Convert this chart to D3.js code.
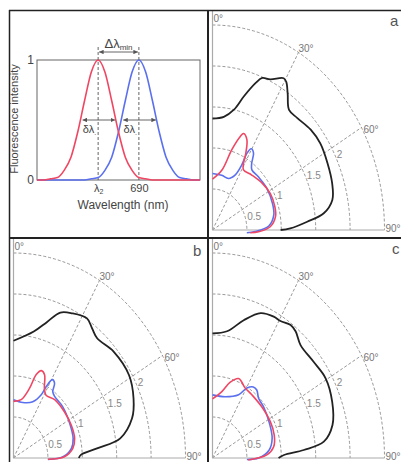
<!DOCTYPE html>
<html>
<head>
<meta charset="utf-8">
<script src="https://cdn.jsdelivr.net/npm/d3@7"></script>
<style>
body { margin: 0; background: #fff; }
svg { display: block; font-family: "Liberation Sans", Arial, sans-serif; }
</style>
</head>
<body>
<div id="chart"></div>
<script>
// spectra (top left)
const wavelengths = [615,620,625,630,635,640,645,650,655,660,665,670,675,680,685,690,695,700,705,710,715,720,725,730,735];
const redIntensity = [0,0,0.01,0.02,0.08,0.19,0.40,0.66,0.90,1,0.90,0.66,0.40,0.19,0.08,0.02,0.01,0,0,0,0,0,0,0,0];
const blueIntensity = [0,0,0,0,0,0,0,0,0.01,0.02,0.08,0.19,0.40,0.66,0.90,1,0.90,0.66,0.40,0.19,0.08,0.02,0.01,0,0];
const peakTicks = [660, 690];
const peakLabels = ["λ", "690"];

// polar panels: [angle deg from 0°, radius]
const radialTicks = [0.5, 1, 1.5, 2, 2.5];
const radialLabels = ["0.5", "1", "1.5", "2"];
const angleTicks = [0, 30, 60, 90];

const aBlack = [[0,1.36],[6.8,1.39],[12,1.50],[15.6,1.69],[19.3,1.90],[21.3,1.99],[24.6,2.02],[29.2,2.12],[30.7,2.10],[33.3,1.99],[37.2,1.84],[42.1,1.84],[49.4,1.88],[56,1.89],[64,1.86],[71.9,1.83],[78.1,1.78],[82.8,1.63],[85.8,1.38],[89,1.13],[90,0.99]];
const aRed = [[0,0.62],[10.5,0.74],[16,1.02],[19.5,1.21],[21,1.26],[24.4,1.21],[27.4,1.05],[29,0.93],[31.6,0.86],[40.4,0.88],[51.6,0.92],[62,0.95],[72.7,0.95],[79.9,0.93],[87.3,0.84],[91.8,0.67],[93.4,0.55]];
const aBlue = [[0,0.69],[11.4,0.68],[20.3,0.67],[26.2,0.75],[28.2,0.90],[28.1,1.06],[29.6,1.14],[32.5,1.11],[35.1,0.99],[38,0.93],[45.8,0.93],[57,0.94],[69.5,0.93],[78.3,0.91],[86.6,0.82],[91.8,0.62],[93.8,0.50]];

const bBlack = [[0,1.43],[10.8,1.57],[16.4,1.73],[21,1.90],[25.8,1.96],[32.1,2.01],[35.9,1.95],[39.8,1.90],[48.4,1.95],[58.9,1.96],[67.4,1.89],[74.3,1.79],[81.2,1.57],[84.5,1.22],[87.8,0.98],[90,0.95]];
const bRed = [[0,0.69],[8.9,0.72],[15.3,0.88],[18,1.07],[20.8,1.14],[24,1.11],[27.9,0.96],[31.7,0.90],[40.1,0.93],[52.7,0.93],[64.4,0.93],[74.9,0.92],[82.2,0.87],[88.8,0.74],[91.8,0.50]];
const bBlue = [[0,0.71],[11.3,0.69],[22.2,0.74],[27.6,0.87],[28.6,0.99],[30.6,1.11],[33.2,1.09],[35.2,0.99],[38.5,0.96],[48.9,0.95],[62.5,0.92],[74.4,0.90],[82,0.85],[88.8,0.72],[92,0.50]];

const cBlack = [[0,1.52],[7.8,1.56],[15.1,1.74],[21.6,1.90],[27.3,1.94],[30.6,1.94],[35,1.98],[38.1,1.96],[42.9,1.88],[51.4,1.88],[59.4,1.91],[68.5,1.87],[77,1.79],[83,1.63],[85.8,1.33],[88,1.04],[90,0.96]];
const cRed = [[0,0.72],[9.5,0.82],[15.6,0.96],[21.3,1.04],[24.6,1.02],[28.5,0.98],[36.6,0.96],[48.9,0.95],[62.2,0.95],[72.7,0.94],[81.2,0.90],[87.3,0.79],[92.7,0.52]];
const cBlue = [[0,0.77],[13.8,0.77],[26.2,0.86],[30.4,0.99],[34.4,1.05],[37.8,1.05],[42.6,0.99],[49.8,0.97],[62.8,0.93],[74.4,0.90],[83.2,0.83],[90,0.67],[92,0.50]];

const RED = "#ef4763", BLUE = "#5b70ee", GRID = "#8c8c8c";

const svg = d3.select("#chart").append("svg")
  .attr("width", 401)
  .attr("height", 462);

const defs = svg.append("defs");
defs.append("marker")
  .attr("id", "arr")
  .attr("viewBox", "0 0 6 6")
  .attr("refX", 6).attr("refY", 3)
  .attr("markerWidth", 5).attr("markerHeight", 5)
  .attr("orient", "auto-start-reverse")
  .append("path").attr("d", "M0,0L6,3L0,6Z").attr("fill", "#555");

// ---------- spectra panel ----------
const x = d3.scaleLinear().domain([615, 735]).range([37, 200]);
const y = d3.scaleLinear().domain([0, 1]).range([180, 60]);

const sp = svg.append("g");
sp.append("rect")
  .attr("x", 37).attr("y", 60).attr("width", 163).attr("height", 120)
  .attr("fill", "none").attr("stroke", "#666").attr("stroke-width", 1);

const spec = d3.line()
  .x((d, i) => x(wavelengths[i]))
  .y(d => y(d))
  .curve(d3.curveMonotoneX);

// dashed guide lines at the peaks
sp.selectAll(".guide").data(peakTicks).enter().append("line")
  .attr("x1", d => x(d)).attr("x2", d => x(d))
  .attr("y1", y(0)).attr("y2", 45)
  .attr("stroke", "#555").attr("stroke-width", 0.9)
  .attr("stroke-dasharray", "3,2");

sp.append("path").attr("d", spec(blueIntensity))
  .attr("fill", "none").attr("stroke", BLUE).attr("stroke-width", 1.6);
sp.append("path").attr("d", spec(redIntensity))
  .attr("fill", "none").attr("stroke", RED).attr("stroke-width", 1.6);

// Δλmin arrow
sp.append("line")
  .attr("x1", x(660) + 1).attr("x2", x(690) - 1)
  .attr("y1", 52).attr("y2", 52)
  .attr("stroke", "#555").attr("stroke-width", 0.9)
  .attr("marker-start", "url(#arr)").attr("marker-end", "url(#arr)");
const dl = sp.append("text")
  .attr("x", x(675)).attr("y", 48)
  .attr("text-anchor", "middle")
  .attr("fill", "#444").attr("font-size", 13);
dl.append("tspan").text("Δλ");
dl.append("tspan").attr("font-size", 8).attr("dy", 2).text("min");

// half width arrows
[[648.5, 672.5], [678.5, 702.5]].forEach(w => {
  sp.append("line")
    .attr("x1", x(w[0])).attr("x2", x(w[1]))
    .attr("y1", y(0.5)).attr("y2", y(0.5))
    .attr("stroke", "#555").attr("stroke-width", 0.9)
    .attr("marker-start", "url(#arr)").attr("marker-end", "url(#arr)");
});
peakTicks.forEach(p => {
  const t = sp.append("text")
    .attr("x", x(p) - 2).attr("y", 133)
    .attr("text-anchor", "end")
    .attr("fill", "#444").attr("font-size", 11);
  t.append("tspan").text("δλ");
  t.append("tspan").attr("font-size", 7).attr("dy", 2).text(".");
});

// axes
const yAxis = d3.axisLeft(y).tickValues([0, 1]).tickFormat(d3.format("d")).tickSize(0).tickPadding(3);
const ya = sp.append("g").attr("transform", "translate(37,0)").call(yAxis);
ya.select(".domain").remove();
ya.selectAll("text").attr("font-size", 12).attr("fill", "#444").attr("font-family", "Liberation Sans, Arial");

const xAxis = d3.axisBottom(x).tickValues(peakTicks).tickFormat((d, i) => peakLabels[i]).tickSize(0).tickPadding(4);
const xa = sp.append("g").attr("transform", "translate(0,180)").call(xAxis);
xa.select(".domain").remove();
xa.selectAll("text").attr("font-size", 11).attr("fill", "#444").attr("font-family", "Liberation Sans, Arial")
  .filter(d => d === 660)
  .append("tspan").attr("font-size", 7).attr("dy", 2).text("2");

sp.append("text")
  .attr("x", 123).attr("y", 209)
  .attr("text-anchor", "middle")
  .attr("fill", "#444").attr("font-size", 12)
  .text("Wavelength (nm)");

sp.append("text")
  .attr("transform", "translate(18,119) rotate(-90)")
  .attr("text-anchor", "middle")
  .attr("fill", "#444").attr("font-size", 11)
  .text("Fluorescence intensity");

// ---------- polar panels ----------
const rx = d3.scaleLinear().domain([0, 2.5]).range([0, 172]);
const ry = d3.scaleLinear().domain([0, 2.5]).range([0, 205]);
const rad = a => a * Math.PI / 180;

const panels = [
  { letter: "a", ox: 212.5, oy: 230, clip: [209, 11, 192, 226], black: aBlack, red: aRed, blue: aBlue, lx: 390, ly: 26 },
  { letter: "b", ox: 13.5, oy: 458, clip: [10, 239, 197, 223], black: bBlack, red: bRed, blue: bBlue, lx: 193, ly: 256 },
  { letter: "c", ox: 212.5, oy: 458, clip: [209, 239, 192, 223], black: cBlack, red: cRed, blue: cBlue, lx: 392, ly: 254 }
];

panels.forEach((p, k) => {
  defs.append("clipPath").attr("id", "clip" + k)
    .append("rect")
    .attr("x", p.clip[0]).attr("y", p.clip[1])
    .attr("width", p.clip[2]).attr("height", p.clip[3]);

  const g = svg.append("g").attr("clip-path", `url(#clip${k})`);
  const px = (a, r) => p.ox + rx(r) * Math.sin(rad(a));
  const py = (a, r) => p.oy - ry(r) * Math.cos(rad(a));

  // rings
  g.selectAll(".ring").data(radialTicks).enter().append("path")
    .attr("d", r => `M${p.ox},${p.oy - ry(r)} A${rx(r)},${ry(r)} 0 0 1 ${p.ox + rx(r)},${p.oy}`)
    .attr("fill", "none").attr("stroke", GRID).attr("stroke-width", 0.9)
    .attr("stroke-dasharray", "3,2");

  // spokes
  g.selectAll(".spoke").data([30, 60]).enter().append("line")
    .attr("x1", p.ox).attr("y1", p.oy)
    .attr("x2", a => px(a, 2.5)).attr("y2", a => py(a, 2.5))
    .attr("stroke", GRID).attr("stroke-width", 0.9)
    .attr("stroke-dasharray", "3,2");

  // axes at 0° and 90°
  g.append("line")
    .attr("x1", p.ox).attr("y1", p.oy).attr("x2", p.ox).attr("y2", p.clip[1])
    .attr("stroke", "#aaa").attr("stroke-width", 1.2);
  g.append("line")
    .attr("x1", p.ox).attr("y1", p.oy).attr("x2", px(90, 2.5)).attr("y2", p.oy)
    .attr("stroke", "#aaa").attr("stroke-width", 1);

  // angle labels
  const angOff = { 0: [1, -3], 30: [0, 0], 60: [2, 5], 90: [1, 2] };
  g.selectAll(".ang").data(angleTicks).enter().append("text")
    .attr("x", a => px(a, 2.5) + angOff[a][0])
    .attr("y", a => py(a, 2.5) + angOff[a][1])
    .attr("fill", "#777").attr("font-size", 10)
    .text(a => a + "°");

  // radius labels along 60°
  g.selectAll(".rl").data(radialLabels).enter().append("text")
    .attr("x", d => px(60, +d) + 5)
    .attr("y", d => py(60, +d) + 10)
    .attr("fill", "#888").attr("font-size", 10)
    .text(d => d);

  const line = d3.line()
    .x(d => px(d[0], d[1]))
    .y(d => py(d[0], d[1]))
    .curve(d3.curveCatmullRom.alpha(0.5));

  g.append("path").attr("d", line(p.black))
    .attr("fill", "none").attr("stroke", "#222").attr("stroke-width", 1.8);
  g.append("path").attr("d", line(p.blue))
    .attr("fill", "none").attr("stroke", BLUE).attr("stroke-width", 1.6);
  g.append("path").attr("d", line(p.red))
    .attr("fill", "none").attr("stroke", RED).attr("stroke-width", 1.6);

  svg.append("text")
    .attr("x", p.lx).attr("y", p.ly)
    .attr("fill", "#555").attr("font-size", 15)
    .text(p.letter);
});

// ---------- frame ----------
const frame = svg.append("g").attr("stroke", "#222").attr("fill", "none");
frame.append("line").attr("x1", 9).attr("x2", 401).attr("y1", 10.5).attr("y2", 10.5).attr("stroke-width", 1.5);
frame.append("line").attr("x1", 9.5).attr("x2", 9.5).attr("y1", 10).attr("y2", 462).attr("stroke-width", 1.5);
frame.append("line").attr("x1", 208).attr("x2", 208).attr("y1", 10).attr("y2", 462).attr("stroke-width", 2);
frame.append("line").attr("x1", 9).attr("x2", 401).attr("y1", 238).attr("y2", 238).attr("stroke-width", 2);
</script>
</body>
</html>
